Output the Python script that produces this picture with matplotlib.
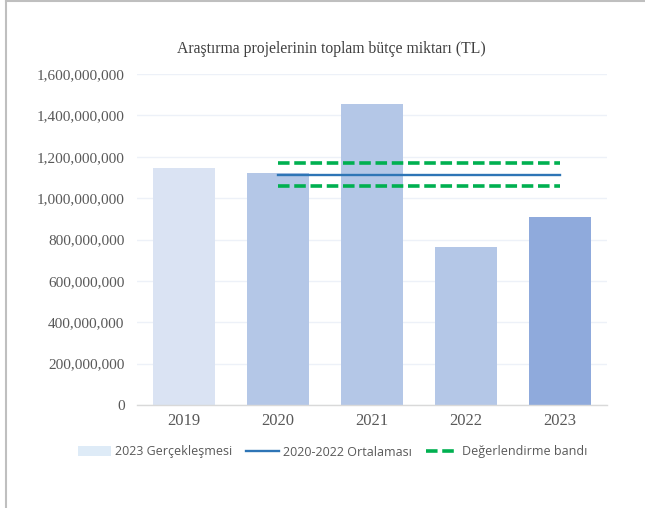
import matplotlib
matplotlib.use("Agg")
import matplotlib.pyplot as plt
from matplotlib.lines import Line2D
from matplotlib.patches import Patch
from matplotlib.ticker import FuncFormatter

years = ["2019", "2020", "2021", "2022", "2023"]
budget = [1145e6, 1121e6, 1455e6, 763e6, 908e6]
bar_colors = ["#DAE3F3", "#B4C7E7", "#B4C7E7", "#B4C7E7", "#8FAADC"]
line_years = ["2020", "2021", "2022", "2023"]
avg_value = 1113e6
band_upper = 1169e6
band_lower = 1058e6
yticks = [0, 200e6, 400e6, 600e6, 800e6, 1000e6, 1200e6, 1400e6, 1600e6]
legend_labels = ["2023 Gerçekleşmesi", "2020-2022 Ortalaması", "Değerlendirme bandı"]
title = "Araştırma projelerinin toplam bütçe miktarı (TL)"

DASH = (0, (3.2, 1.3))

fig = plt.figure(figsize=(6.45, 5.08), dpi=100)
ax = fig.add_axes([137/645, 1 - 405/508, 470/645, (405 - 74)/508])

x = list(range(len(years)))
ax.bar(x, budget, width=0.67, color=bar_colors, zorder=2)

lx = [years.index(y) for y in line_years]
ax.plot(lx, [avg_value]*len(lx), color="#2E75B6", lw=1.7, zorder=3)
ax.plot(lx, [band_upper]*len(lx), color="#00B050", lw=2.6, ls=DASH, zorder=3)
ax.plot(lx, [band_lower]*len(lx), color="#00B050", lw=2.6, ls=DASH, zorder=3)

ax.set_xlim(-0.5, len(years) - 0.5)
ax.set_ylim(0, 1600e6)
ax.set_yticks(yticks)
ax.yaxis.set_major_formatter(FuncFormatter(lambda v, p: f"{int(v):,}"))
ax.set_xticks(x)
ax.set_xticklabels(years)
ax.grid(axis="y", color="#EDF1F8", lw=1.0, zorder=0)
for s in ["top", "right", "left"]:
    ax.spines[s].set_visible(False)
ax.spines["bottom"].set_color("#D9D9D9")
ax.spines["bottom"].set_linewidth(1.0)
ax.tick_params(axis="both", length=0, colors="#595959")
for lab in ax.get_yticklabels():
    lab.set_family("Liberation Serif"); lab.set_fontsize(11); lab.set_color("#595959")
for lab in ax.get_xticklabels():
    lab.set_family("Liberation Serif"); lab.set_fontsize(12); lab.set_color("#595959")
ax.tick_params(axis="y", pad=9)
ax.tick_params(axis="x", pad=6)

fig.text(331/645, 1 - 49/508, title, ha="center", va="center",
         family="Liberation Serif", fontsize=11.3, color="#404040")

handles = [
    Patch(facecolor="#DEEBF7", edgecolor="none"),
    Line2D([0], [0], color="#2E75B6", lw=1.7),
    Line2D([0], [0], color="#00B050", lw=2.6, ls=DASH),
]
leg = fig.legend(handles, legend_labels, loc="center", bbox_to_anchor=(333/645, 1 - 452/508),
                 ncol=3, frameon=False, prop={"family": "Open Sans", "size": 9},
                 handlelength=2.6, handleheight=0.85, handletextpad=0.35, columnspacing=1.1,
                 labelcolor="#595959")

# outer border lines (top and left)
fig.add_artist(Line2D([5.5/645, 5.5/645], [0, 1], transform=fig.transFigure, color="#BFBFBF", lw=1.5))
fig.add_artist(Line2D([5.5/645, 1], [1 - 0.8/508, 1 - 0.8/508], transform=fig.transFigure, color="#BFBFBF", lw=1.5))

fig.savefig("out.png", dpi=100)
